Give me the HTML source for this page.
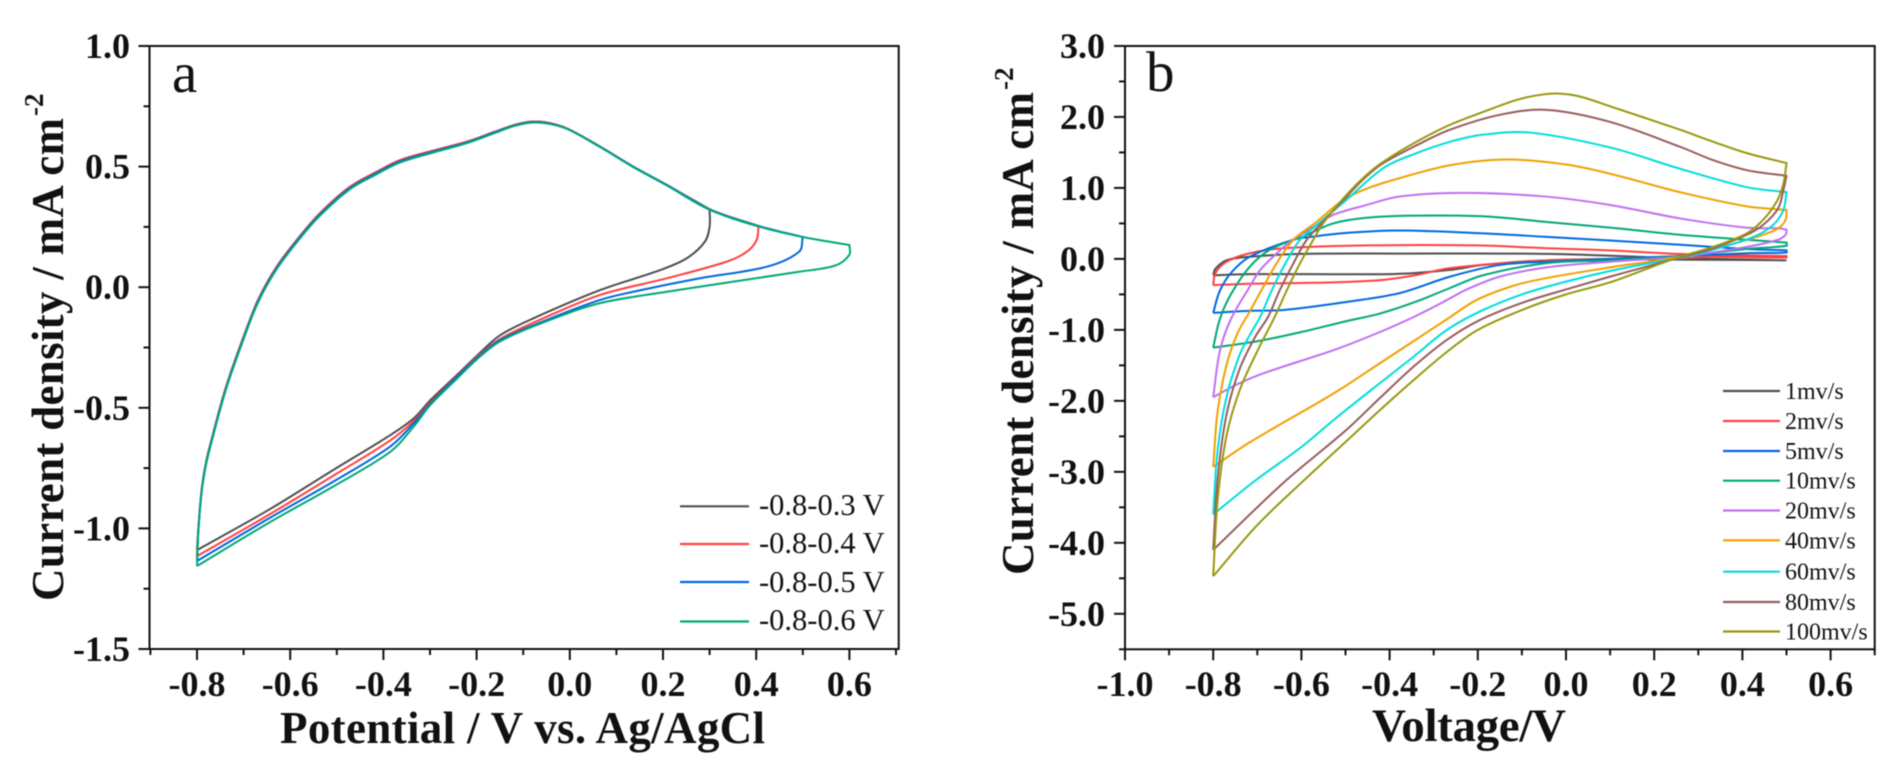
<!DOCTYPE html>
<html lang="en">
<head>
<meta charset="utf-8">
<title>Cyclic voltammetry curves</title>
<style>
html,body{margin:0;padding:0;background:#fff;width:1901px;height:767px;overflow:hidden}
svg{display:block;filter:blur(0.45px)}
text{font-family:"Liberation Serif",serif;fill:#111}
.tick{font-weight:bold;font-size:36px}
.title{font-weight:bold;font-size:45px}
.sup{font-weight:bold;font-size:27px}
</style>
</head>
<body>
<svg id="figure" width="1901" height="767" viewBox="0 0 1901 767" xmlns="http://www.w3.org/2000/svg">
  <g id="panel-a">
    <text x="172" y="92" font-size="57">a</text>
    <text class="title" x="280" y="743" textLength="485" lengthAdjust="spacing">Potential / V vs. Ag/AgCl</text>
    <text class="title" transform="translate(63,601) rotate(-90)" textLength="483" lengthAdjust="spacing">Current density / mA cm</text>
    <text class="sup" transform="translate(43,116) rotate(-90)">-2</text>
  </g>
  <g id="panel-b">
    <text x="1146" y="91" font-size="57">b</text>
    <text class="title" x="1372" y="741" style="font-size:47px" textLength="194" lengthAdjust="spacing">Voltage/V</text>
    <text class="title" transform="translate(1033,575) rotate(-90)" textLength="483" lengthAdjust="spacing">Current density / mA cm</text>
    <text class="sup" transform="translate(1013,90) rotate(-90)">-2</text>
  </g>
</svg>
<script>
// ---------- Panel a data ----------
const aXTickLabels = ['-0.8','-0.6','-0.4','-0.2','0.0','0.2','0.4','0.6'];
const aXMinorTicks = [-0.9,-0.7,-0.5,-0.3,-0.1,0.1,0.3,0.5,0.7];
const aYTickLabels = ['1.0','0.5','0.0','-0.5','-1.0','-1.5'];
const aYMinorTicks = [0.75,0.25,-0.25,-0.75,-1.25];
const aSeriesNames = ['-0.8-0.3 V','-0.8-0.4 V','-0.8-0.5 V','-0.8-0.6 V'];

const a03V = [-0.8,-0.797,-0.79,-0.78,-0.769,-0.75,-0.733,-0.7,-0.669,-0.629,-0.58,-0.536,-0.472,-0.414,-0.364,-0.29,-0.221,-0.16,-0.12,-0.085,-0.05,-0.007,0.065,0.136,0.208,0.3,0.3,0.29,0.251,0.194,0.065,-0.078,-0.15,-0.2,-0.24,-0.3,-0.335,-0.385,-0.502,-0.647,-0.8];
const a03J = [-1.09,-1.0,-0.84,-0.72,-0.634,-0.495,-0.385,-0.205,-0.053,0.085,0.21,0.307,0.416,0.479,0.527,0.568,0.603,0.645,0.672,0.686,0.683,0.659,0.583,0.5,0.424,0.323,0.251,0.189,0.12,0.071,-0.012,-0.129,-0.2,-0.285,-0.36,-0.47,-0.544,-0.613,-0.751,-0.924,-1.09];
const a04V = [-0.8,-0.797,-0.79,-0.78,-0.769,-0.75,-0.733,-0.7,-0.669,-0.629,-0.58,-0.536,-0.472,-0.414,-0.364,-0.29,-0.221,-0.16,-0.12,-0.085,-0.05,-0.007,0.065,0.136,0.208,0.3,0.405,0.401,0.38,0.337,0.208,0.065,-0.057,-0.15,-0.2,-0.24,-0.3,-0.335,-0.385,-0.502,-0.647,-0.8];
const a04J = [-1.115,-1.0,-0.84,-0.72,-0.634,-0.495,-0.385,-0.205,-0.053,0.085,0.21,0.307,0.416,0.479,0.527,0.568,0.603,0.645,0.672,0.686,0.683,0.659,0.583,0.5,0.424,0.323,0.254,0.196,0.147,0.106,0.037,-0.032,-0.129,-0.215,-0.29,-0.365,-0.48,-0.555,-0.635,-0.775,-0.945,-1.115];
const a05V = [-0.8,-0.797,-0.79,-0.78,-0.769,-0.75,-0.733,-0.7,-0.669,-0.629,-0.58,-0.536,-0.472,-0.414,-0.364,-0.29,-0.221,-0.16,-0.12,-0.085,-0.05,-0.007,0.065,0.136,0.208,0.3,0.405,0.5,0.492,0.423,0.279,0.136,0.065,-0.05,-0.15,-0.2,-0.24,-0.3,-0.335,-0.385,-0.502,-0.647,-0.8];
const a05J = [-1.135,-1.005,-0.845,-0.725,-0.639,-0.5,-0.39,-0.21,-0.058,0.08,0.205,0.302,0.411,0.474,0.522,0.564,0.6,0.643,0.67,0.684,0.681,0.658,0.582,0.5,0.424,0.323,0.254,0.208,0.147,0.085,0.037,-0.019,-0.053,-0.136,-0.22,-0.295,-0.368,-0.485,-0.565,-0.66,-0.8,-0.96,-1.135];
const a06V = [-0.8,-0.797,-0.79,-0.78,-0.769,-0.75,-0.733,-0.7,-0.669,-0.629,-0.58,-0.536,-0.472,-0.414,-0.364,-0.29,-0.221,-0.16,-0.12,-0.085,-0.05,-0.007,0.065,0.136,0.208,0.3,0.405,0.5,0.6,0.6,0.57,0.492,0.351,0.208,0.065,-0.043,-0.15,-0.2,-0.24,-0.3,-0.335,-0.385,-0.502,-0.647,-0.8];
const a06J = [-1.156,-1.01,-0.85,-0.73,-0.644,-0.505,-0.395,-0.215,-0.063,0.075,0.2,0.297,0.406,0.469,0.517,0.56,0.597,0.64,0.668,0.682,0.679,0.657,0.581,0.498,0.422,0.321,0.252,0.208,0.175,0.135,0.09,0.064,0.023,-0.019,-0.066,-0.136,-0.225,-0.3,-0.375,-0.49,-0.578,-0.682,-0.82,-0.978,-1.156];

// ---------- Panel b data ----------
const bXTickLabels = ['-1.0','-0.8','-0.6','-0.4','-0.2','0.0','0.2','0.4','0.6'];
const bXMinorTicks = [-0.9,-0.7,-0.5,-0.3,-0.1,0.1,0.3,0.5,0.7];
const bYTickLabels = ['3.0','2.0','1.0','0.0','-1.0','-2.0','-3.0','-4.0','-5.0'];
const bYMinorTicks = [2.5,1.5,0.5,-0.5,-1.5,-2.5,-3.5,-4.5,-5.5];
const bSeriesNames = ['1mv/s','2mv/s','5mv/s','10mv/s','20mv/s','40mv/s','60mv/s','80mv/s','100mv/s'];

const b1V = [-0.8,-0.795,-0.77,-0.717,-0.6,-0.376,-0.044,0.2585,0.5,0.2585,-0.044,-0.188,-0.263,-0.376,-0.6,-0.717,-0.8];
const b1J = [-0.23,-0.14,-0.02,0.03,0.07,0.075,0.07,0.01,-0.02,-0.01,-0.02,-0.085,-0.155,-0.21,-0.215,-0.215,-0.23];
const b2V = [-0.8,-0.795,-0.77,-0.717,-0.64,-0.45,-0.2,-0.044,0.1,0.2585,0.5,0.5,0.334,0.2585,0.1,-0.044,-0.263,-0.338,-0.414,-0.528,-0.717,-0.8];
const b2J = [-0.37,-0.2,-0.04,0.08,0.15,0.19,0.19,0.15,0.12,0.07,0.04,0.02,0.03,0.01,0,-0.02,-0.13,-0.225,-0.295,-0.33,-0.35,-0.37];
const b5V = [-0.8,-0.785,-0.76,-0.717,-0.618,-0.566,-0.49,-0.376,-0.188,-0.044,0.1,0.2585,0.41,0.5,0.5,0.41,0.2585,0.1,-0.044,-0.15,-0.263,-0.376,-0.49,-0.64,-0.717,-0.8];
const b5J = [-0.76,-0.45,-0.2,0.03,0.27,0.32,0.37,0.40,0.36,0.31,0.26,0.2,0.14,0.12,0.09,0.08,0.04,0,-0.04,-0.085,-0.25,-0.48,-0.60,-0.72,-0.73,-0.76];
const b10V = [-0.8,-0.785,-0.76,-0.717,-0.671,-0.588,-0.528,-0.452,-0.339,-0.188,-0.044,0.1,0.2585,0.41,0.5,0.5,0.41,0.2585,0.1,-0.044,-0.188,-0.263,-0.339,-0.422,-0.5,-0.6,-0.7,-0.8];
const b10J = [-1.25,-0.85,-0.5,-0.11,0.13,0.34,0.5,0.58,0.61,0.6,0.52,0.44,0.34,0.27,0.23,0.185,0.14,0.04,-0.02,-0.06,-0.23,-0.41,-0.6,-0.77,-0.88,-1.03,-1.16,-1.25];
const b20V = [-0.8,-0.785,-0.76,-0.717,-0.694,-0.664,-0.626,-0.573,-0.528,-0.452,-0.376,-0.234,-0.05,0.1,0.2585,0.41,0.4855,0.5,0.498,0.481,0.41,0.2585,0.1,-0.044,-0.15,-0.225,-0.27,-0.346,-0.422,-0.52,-0.69,-0.75,-0.8];
const b20J = [-1.95,-1.3,-0.85,-0.39,-0.16,0.03,0.24,0.45,0.62,0.76,0.88,0.93,0.88,0.76,0.57,0.44,0.43,0.41,0.34,0.27,0.17,0.03,-0.04,-0.12,-0.25,-0.43,-0.58,-0.82,-1.03,-1.27,-1.62,-1.78,-1.95];
const b40V = [-0.8,-0.79,-0.77,-0.745,-0.717,-0.686,-0.656,-0.618,-0.566,-0.505,-0.452,-0.376,-0.263,-0.135,0,0.1,0.2585,0.41,0.477,0.5,0.498,0.481,0.447,0.372,0.2585,0.2,0.1,-0.044,-0.12,-0.203,-0.27,-0.346,-0.422,-0.523,-0.716,-0.8];
const b40J = [-2.93,-2.15,-1.5,-1.05,-0.74,-0.39,-0.06,0.27,0.52,0.83,0.99,1.14,1.32,1.40,1.33,1.2,0.94,0.74,0.70,0.69,0.55,0.43,0.34,0.2,0.03,-0.03,-0.12,-0.27,-0.38,-0.58,-0.85,-1.16,-1.47,-1.88,-2.58,-2.93];
const b60V = [-0.8,-0.79,-0.77,-0.74,-0.715,-0.693,-0.667,-0.636,-0.603,-0.561,-0.498,-0.414,-0.339,-0.263,-0.188,-0.082,0.1,0.2585,0.41,0.4855,0.5,0.493,0.47,0.425,0.334,0.2585,0.2,0.1,0,-0.1,-0.195,-0.27,-0.346,-0.422,-0.523,-0.6,-0.704,-0.8];
const b60J = [-3.6,-2.7,-1.95,-1.35,-1.05,-0.81,-0.44,-0.06,0.27,0.5,0.83,1.28,1.49,1.65,1.75,1.78,1.57,1.27,1.01,0.95,0.94,0.69,0.48,0.31,0.13,0.01,-0.05,-0.17,-0.32,-0.5,-0.74,-1.0,-1.38,-1.75,-2.25,-2.65,-3.12,-3.6];
const b80V = [-0.8,-0.79,-0.77,-0.74,-0.705,-0.675,-0.649,-0.618,-0.588,-0.555,-0.498,-0.453,-0.414,-0.339,-0.263,-0.15,-0.044,0.1,0.2585,0.334,0.41,0.5,0.493,0.481,0.447,0.41,0.334,0.2585,0.2,0.1,0,-0.1,-0.195,-0.27,-0.346,-0.422,-0.5,-0.64,-0.8];
const b80J = [-4.1,-3.1,-2.2,-1.55,-1.1,-0.81,-0.44,-0.06,0.27,0.5,0.875,1.16,1.35,1.6,1.82,2.03,2.10,1.93,1.58,1.39,1.25,1.17,0.97,0.71,0.48,0.34,0.15,0.02,-0.08,-0.25,-0.43,-0.62,-0.86,-1.14,-1.52,-1.96,-2.42,-3.15,-4.1];
const b100V = [-0.8,-0.79,-0.77,-0.74,-0.7,-0.66,-0.633,-0.603,-0.573,-0.551,-0.498,-0.453,-0.414,-0.339,-0.263,-0.188,-0.112,-0.06,-0.02,0.03,0.1,0.2585,0.334,0.41,0.5,0.493,0.478,0.447,0.41,0.334,0.2585,0.2,0.1,0,-0.1,-0.2,-0.27,-0.346,-0.422,-0.5,-0.596,-0.7,-0.8];
const b100J = [-4.47,-3.4,-2.5,-1.85,-1.3,-0.81,-0.44,-0.06,0.27,0.5,0.9,1.18,1.37,1.65,1.89,2.07,2.24,2.31,2.33,2.29,2.15,1.82,1.65,1.49,1.35,1.06,0.81,0.55,0.36,0.17,0.03,-0.1,-0.33,-0.5,-0.72,-1.0,-1.31,-1.71,-2.13,-2.58,-3.13,-3.75,-4.47];

// ---------- Axis functions ----------
function aX(v){ return 197 + (v + 0.8) * 466; }
function aY(j){ return 287.2 - j * 241.2; }
function bX(v){ return 1125 + (v + 1) * 441; }
function bY(j){ return 258.9 - j * 70.98; }

const NS = 'http://www.w3.org/2000/svg';
const panelA = document.getElementById('panel-a');
const panelB = document.getElementById('panel-b');

function make(tag, parent){
  const el = document.createElementNS(NS, tag);
  parent.appendChild(el);
  return el;
}

function drawLine(parent, x1, y1, x2, y2, color, width, name){
  const el = make('line', parent);
  el.setAttribute('x1', x1); el.setAttribute('y1', y1);
  el.setAttribute('x2', x2); el.setAttribute('y2', y2);
  el.setAttribute('stroke', color); el.setAttribute('stroke-width', width);
  
  
  return el;
}

function drawLabel(parent, x, y, anchor, cls, size, content, name){
  const el = make('text', parent);
  el.setAttribute('x', x); el.setAttribute('y', y);
  el.setAttribute('text-anchor', anchor);
  if (cls) el.setAttribute('class', cls);
  if (size) el.setAttribute('font-size', size);
  el.textContent = content;
  
  
  return el;
}

function drawAxes(parent, xFn, yFn, box, xLabels, xMinor, yLabels, yMinor, yLabelRight, tag){
  const frame = make('rect', parent);
  frame.setAttribute('x', box.l); frame.setAttribute('y', box.t);
  frame.setAttribute('width', box.r - box.l); frame.setAttribute('height', box.b - box.t);
  frame.setAttribute('fill', 'none'); frame.setAttribute('stroke', '#111'); frame.setAttribute('stroke-width', 2);
  
  
  xLabels.forEach(function(t){
    const v = parseFloat(t);
    drawLine(parent, xFn(v), box.b, xFn(v), box.b + 11, '#111', 2, 'x-tick-' + tag);
    drawLabel(parent, xFn(v), 696, 'middle', 'tick', null, t, 'x-tick-label-' + tag);
  });
  xMinor.forEach(function(v){
    drawLine(parent, xFn(v), box.b, xFn(v), box.b + 6, '#111', 2, 'x-minor-tick-' + tag);
  });
  yLabels.forEach(function(t){
    const j = parseFloat(t);
    drawLine(parent, box.l - 11, yFn(j), box.l, yFn(j), '#111', 2, 'y-tick-' + tag);
    drawLabel(parent, yLabelRight, yFn(j) + 12, 'end', 'tick', null, t, 'y-tick-label-' + tag);
  });
  yMinor.forEach(function(j){
    drawLine(parent, box.l - 6, yFn(j), box.l, yFn(j), '#111', 2, 'y-minor-tick-' + tag);
  });
}

// Smooth one branch of screen points with chord-scaled tangents.
function branchPath(pts){
  let d = '';
  for (let i = 0; i < pts.length - 1; i++){
    const p0 = pts[Math.max(i - 1, 0)], p1 = pts[i], p2 = pts[i + 1], p3 = pts[Math.min(i + 2, pts.length - 1)];
    const len = Math.hypot(p2[0] - p1[0], p2[1] - p1[1]);
    const t1x = p2[0] - p0[0], t1y = p2[1] - p0[1], n1 = Math.hypot(t1x, t1y) || 1;
    const t2x = p3[0] - p1[0], t2y = p3[1] - p1[1], n2 = Math.hypot(t2x, t2y) || 1;
    d += ' C' + (p1[0] + t1x / n1 * len / 3).toFixed(2) + ' ' + (p1[1] + t1y / n1 * len / 3).toFixed(2) + ' ' +
         (p2[0] - t2x / n2 * len / 3).toFixed(2) + ' ' + (p2[1] - t2y / n2 * len / 3).toFixed(2) + ' ' +
         p2[0].toFixed(2) + ' ' + p2[1].toFixed(2);
  }
  return d;
}

function loopPath(vs, js, xFn, yFn){
  const pts = vs.map(function(v, i){ return [xFn(v), yFn(js[i])]; });
  const turn = vs.indexOf(Math.max.apply(null, vs));
  const out = pts.slice(0, turn + 1);
  const back = pts.slice(turn);
  return 'M' + pts[0][0].toFixed(2) + ' ' + pts[0][1].toFixed(2) + branchPath(out) + branchPath(back);
}

function drawCurve(parent, vs, js, xFn, yFn, color, width, name){
  const el = make('path', parent);
  el.setAttribute('d', loopPath(vs, js, xFn, yFn));
  el.setAttribute('fill', 'none');
  el.setAttribute('stroke', color);
  el.setAttribute('stroke-width', width);
  el.setAttribute('stroke-linejoin', 'miter');
  
  
}

// ---------- Panel a ----------
drawAxes(panelA, aX, aY, {l:149.5, r:898.7, t:46, b:649}, aXTickLabels, aXMinorTicks, aYTickLabels, aYMinorTicks, 130, 'a');

const aColors = ['#4f4f4f','#ff4040','#0068e0','#00a878'];
const aV = [a03V, a04V, a05V, a06V];
const aJ = [a03J, a04J, a05J, a06J];
const aLegendLineY = [506.3, 544, 582, 621.5];
const aLegendTextY = [515, 553, 592, 630];
aSeriesNames.forEach(function(name, i){
  drawCurve(panelA, aV[i], aJ[i], aX, aY, aColors[i], 2, 'cv-curve-' + name.replace(/ V$/, ''));
  drawLine(panelA, 680, aLegendLineY[i], 749, aLegendLineY[i], aColors[i], 2.2, 'legend-line-a');
  drawLabel(panelA, 759, aLegendTextY[i], 'start', null, 30.5, name, 'legend-label-a');
});

// ---------- Panel b ----------
drawAxes(panelB, bX, bY, {l:1125, r:1874.7, t:46, b:649.3}, bXTickLabels, bXMinorTicks, bYTickLabels, bYMinorTicks, 1105, 'b');

const bColors = ['#4f4f4f','#ff4040','#0068e0','#00a878','#c070f0','#f0a000','#00dcdc','#985c5c','#989810'];
const bV = [b1V, b2V, b5V, b10V, b20V, b40V, b60V, b80V, b100V];
const bJ = [b1J, b2J, b5J, b10J, b20J, b40J, b60J, b80J, b100J];
const bLegendLineY = [391, 421, 451, 480.7, 510.5, 540.3, 571.7, 602, 631.5];
bSeriesNames.forEach(function(name, i){
  drawCurve(panelB, bV[i], bJ[i], bX, bY, bColors[i], 2, 'cv-curve-' + name.replace('/', '-'));
  drawLine(panelB, 1723, bLegendLineY[i], 1780, bLegendLineY[i], bColors[i], 2.2, 'legend-line-b');
  drawLabel(panelB, 1785, bLegendLineY[i] + 8, 'start', null, 24, name, 'legend-label-b');
});
</script>
</body>
</html>
